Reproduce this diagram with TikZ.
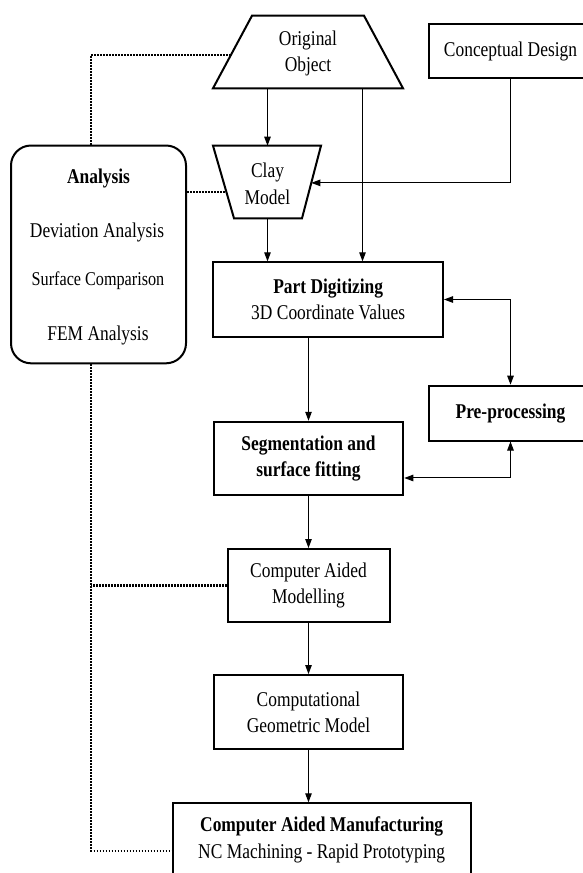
\documentclass[tikz,border=0pt]{standalone}
\usepackage{fontspec}
\setmainfont{Liberation Serif}[FakeStretch=0.83]
\usetikzlibrary{arrows.meta,calc}
\begin{document}
\begin{tikzpicture}[x=1pt,y=-1pt,
  txt/.style={font=\fontsize{21}{26.7}\selectfont},
  box/.style={draw, line width=2pt, inner sep=0pt, align=center, txt},
  lbl/.style={inner sep=0pt, align=center, txt},
  shapeline/.style={draw, line width=2pt, line join=miter},
  conn/.style={line width=1pt, -{Triangle[length=9pt,width=6.5pt]}},
  conntwo/.style={line width=1pt, {Triangle[length=9pt,width=6.5pt]}-{Triangle[length=9pt,width=6.5pt]}},
  dots/.style={line width=2.4pt, dash pattern=on 1.6pt off 1.4pt}]
\useasboundingbox (0,0) rectangle (582,873);
\fill[white] (0,0) rectangle (582,873);

% Original Object (trapezium)
\coordinate (oo-tl) at (252,15.7);
\coordinate (oo-tr) at (364,15.7);
\coordinate (oo-br) at (403,88.3);
\coordinate (oo-bl) at (213,88.3);
\draw[shapeline] (oo-tl) -- (oo-tr) -- (oo-br) -- (oo-bl) -- cycle;
\node[lbl] (oo) at (308,53.3) {Original\\Object};
\coordinate (oo-out) at (362.5,88.3);

% Clay Model (inverted trapezium)
\coordinate (clay-tl) at (213,145.7);
\coordinate (clay-tr) at (321,145.7);
\coordinate (clay-br) at (302,218.3);
\coordinate (clay-bl) at (234,218.3);
\draw[shapeline] (clay-tl) -- (clay-tr) -- (clay-br) -- (clay-bl) -- cycle;
\node[lbl] (clay) at (267.5,183.5) {Clay\\Model};
\coordinate (clay-e) at ($(clay-tr)!0.512!(clay-br)$);
\coordinate (clay-w) at ($(clay-tl)!0.637!(clay-bl)$);

% Boxes
\node[box, minimum width=163pt, minimum height=54pt] (conc) at (510.5,51) {Conceptual Design};
\node[draw, line width=2pt, rounded corners=20pt, minimum width=175pt, minimum height=217.8pt] (ana) at (98.5,254.4) {};
\node[lbl, font=\fontsize{21}{26.7}\selectfont\bfseries] (anat) at (98.5,178) {Analysis};
\node[lbl] (dev) at (97,232) {Deviation Analysis};
\node[lbl, font=\fontsize{19.5}{24}\selectfont] (surf) at (98,281) {Surface Comparison};
\node[lbl] (fem) at (98,335) {FEM Analysis};

\node[box, minimum width=229.6pt, minimum height=74.3pt] (pd) at (328.2,299.5) {\textbf{Part Digitizing}\\3D Coordinate Values};
\node[box, minimum width=163pt, minimum height=54.8pt] (pre) at (510.5,413.1) {\textbf{Pre-processing}};
\node[box, minimum width=189.6pt, minimum height=73.3pt] (seg) at (308.5,458.4) {\textbf{Segmentation and}\\\textbf{surface fitting}};
\node[box, minimum width=162pt, minimum height=73pt] (camod) at (308.5,585.5) {Computer Aided\\Modelling};
\node[box, minimum width=189.6pt, minimum height=74.3pt] (comp) at (308.5,712.2) {Computational\\Geometric Model};
\node[box, minimum width=298pt, minimum height=73.4pt] (cam) at (321.7,840) {\textbf{Computer Aided Manufacturing}\\NC Machining - Rapid Prototyping};

% Connectors
\draw[conn] (clay |- oo-bl) -- (clay |- clay-tl);
\draw[conn] (oo-out) -- (oo-out |- pd.north);
\draw[conn] (conc.south) |- (clay-e);
\draw[conn] (clay |- clay-bl) -- (clay |- pd.north);
\draw[conntwo] (pd.east) -| (pre.north);
\draw[conntwo] (pre.south) |- ($(seg.south east)!0.24!(seg.north east)$);
\draw[conn] (pd.south -| seg.north) -- (seg.north);
\draw[conn] (seg.south) -- (camod.north);
\draw[conn] (camod.south) -- (comp.north);
\draw[conn] (comp.south) -- (comp.south |- cam.north);

% Dotted links
\coordinate (anax) at ($(ana.south west)+(81,0)$);
\draw[dots] ($(oo-tl)!0.54!(oo-bl)$) -| (anax |- ana.north);
\draw[dots] (ana.east |- clay-w) -- (clay-w);
\draw[dots] (anax) |- ($(cam.north west)+(0,48.4)$);
\draw[dots] (camod.west) -- (camod.west -| anax);
\end{tikzpicture}
\end{document}
